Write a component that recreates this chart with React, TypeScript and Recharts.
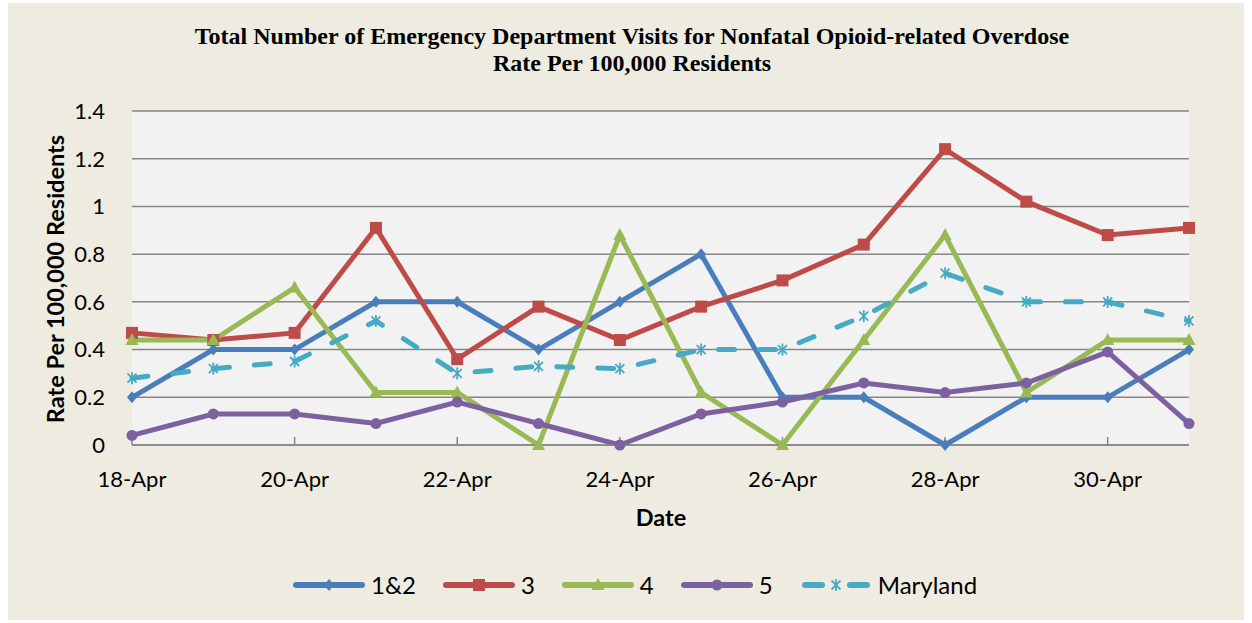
import React from "react";
import { LineChart, Line, XAxis, YAxis, CartesianGrid } from "recharts";

const dates = [
  "18-Apr", "19-Apr", "20-Apr", "21-Apr", "22-Apr", "23-Apr", "24-Apr",
  "25-Apr", "26-Apr", "27-Apr", "28-Apr", "29-Apr", "30-Apr", "1-May",
];
const region12 = [0.2, 0.4, 0.4, 0.6, 0.6, 0.4, 0.6, 0.8, 0.2, 0.2, 0, 0.2, 0.2, 0.4];
const region3 = [0.47, 0.44, 0.47, 0.91, 0.36, 0.58, 0.44, 0.58, 0.69, 0.84, 1.24, 1.02, 0.88, 0.91];
const region4 = [0.44, 0.44, 0.66, 0.22, 0.22, 0, 0.88, 0.22, 0, 0.44, 0.88, 0.22, 0.44, 0.44];
const region5 = [0.04, 0.13, 0.13, 0.09, 0.18, 0.09, 0, 0.13, 0.18, 0.26, 0.22, 0.26, 0.39, 0.09];
const maryland = [0.28, 0.32, 0.35, 0.52, 0.3, 0.33, 0.32, 0.4, 0.4, 0.54, 0.72, 0.6, 0.6, 0.52];
const yTicks = [0, 0.2, 0.4, 0.6, 0.8, 1, 1.2, 1.4];

const data = dates.map((date, i) => ({
  date,
  r12: region12[i],
  r3: region3[i],
  r4: region4[i],
  r5: region5[i],
  md: maryland[i],
}));

const BLUE = "#4A7EBB";
const RED = "#BE4B48";
const GREEN = "#98B954";
const PURPLE = "#7D60A0";
const CYAN = "#46AAC5";
const GRID = "#868686";
const SANS = "Lato, 'Liberation Sans', sans-serif";

type Shape = "diamond" | "square" | "triangle" | "circle" | "star";

function Marker({ shape, cx, cy, color }: { shape: Shape; cx: number; cy: number; color: string }) {
  if (cx == null || cy == null) return null;
  switch (shape) {
    case "diamond":
      return <polygon points={`${cx},${cy - 6} ${cx + 5},${cy} ${cx},${cy + 6} ${cx - 5},${cy}`} fill={color} />;
    case "square":
      return <rect x={cx - 6} y={cy - 6} width={12} height={12} fill={color} />;
    case "triangle":
      return <polygon points={`${cx},${cy - 7} ${cx + 6.5},${cy + 5} ${cx - 6.5},${cy + 5}`} fill={color} />;
    case "circle":
      return <circle cx={cx} cy={cy} r={5.5} fill={color} />;
    case "star":
      return (
        <g stroke={color} strokeWidth={1.8}>
          <line x1={cx - 4.5} y1={cy - 4.5} x2={cx + 4.5} y2={cy + 4.5} />
          <line x1={cx - 4.5} y1={cy + 4.5} x2={cx + 4.5} y2={cy - 4.5} />
          <line x1={cx} y1={cy - 6} x2={cx} y2={cy + 6} />
        </g>
      );
  }
  return null;
}

const dotFor = (shape: Shape, color: string) => (props: any) =>
  <Marker key={`${shape}-${props.index}`} shape={shape} cx={props.cx} cy={props.cy} color={color} />;

const legendItems: { name: string; color: string; shape: Shape; dashed?: boolean }[] = [
  { name: "1&2", color: BLUE, shape: "diamond" },
  { name: "3", color: RED, shape: "square" },
  { name: "4", color: GREEN, shape: "triangle" },
  { name: "5", color: PURPLE, shape: "circle" },
  { name: "Maryland", color: CYAN, shape: "star", dashed: true },
];

function LegendBox() {
  return (
    <div
      style={{
        position: "absolute",
        top: 571,
        left: 293,
        display: "flex",
        alignItems: "center",
        fontFamily: SANS,
        fontSize: 24,
        color: "#000",
        height: 28,
      }}
    >
      {legendItems.map((it) => (
        <div key={it.name} style={{ display: "flex", alignItems: "center", marginRight: 27 }}>
          <svg width={72} height={16}>
            {it.dashed ? (
              <g stroke={it.color} strokeWidth={6} strokeLinecap="round">
                <line x1={5} y1={8} x2={22} y2={8} />
                <line x1={50} y1={8} x2={67} y2={8} />
              </g>
            ) : (
              <line x1={3} y1={8} x2={69} y2={8} stroke={it.color} strokeWidth={6} strokeLinecap="round" />
            )}
            <Marker shape={it.shape} cx={36} cy={8} color={it.color} />
          </svg>
          <span style={{ marginLeft: 6, lineHeight: "28px" }}>{it.name}</span>
        </div>
      ))}
    </div>
  );
}

export default function App() {
  return (
    <div style={{ position: "absolute", left: 0, top: 0, width: 1252, height: 623, background: "#fff" }}>
      <div style={{ position: "absolute", left: 8, top: 3, width: 1236, height: 617, background: "#EEECE1" }} />
      <div
        style={{
          position: "absolute",
          left: 0,
          top: 23,
          width: 1264,
          textAlign: "center",
          fontFamily: "'Liberation Serif', 'Times New Roman', serif",
          fontWeight: "bold",
          fontSize: 24,
          lineHeight: "27px",
          color: "#000",
        }}
      >
        Total Number of Emergency Department Visits for Nonfatal Opioid-related Overdose
        <br />
        Rate Per 100,000 Residents
      </div>
      <div
        style={{
          position: "absolute",
          left: 55,
          top: 279,
          transform: "translate(-50%, -50%) rotate(-90deg)",
          whiteSpace: "nowrap",
          fontFamily: SANS,
          fontWeight: "bold",
          fontSize: 23.5,
          color: "#000",
        }}
      >
        Rate Per 100,000 Residents
      </div>
      <div
        style={{
          position: "absolute",
          left: 661,
          top: 517,
          transform: "translate(-50%, -50%)",
          fontFamily: SANS,
          fontWeight: "bold",
          fontSize: 23.5,
          color: "#000",
        }}
      >
        Date
      </div>
      <div style={{ position: "absolute", left: 0, top: 0 }}>
        <LineChart
          width={1252}
          height={623}
          data={data}
          margin={{ top: 111, right: 63, bottom: 148, left: 72 }}
        >
          <CartesianGrid vertical={false} stroke={GRID} strokeWidth={1.5} fill="#F2F2F2" />
          <XAxis
            dataKey="date"
            interval={1}
            height={30}
            axisLine={{ stroke: GRID, strokeWidth: 1.5 }}
            tickLine={{ stroke: GRID, strokeWidth: 1.5 }}
            tickSize={-8}
            tickMargin={34}
            tick={{ fill: "#000", fontSize: 22, fontFamily: SANS }}
          />
          <YAxis
            domain={[0, 1.4]}
            ticks={yTicks}
            width={60}
            axisLine={false}
            tickLine={false}
            tickSize={0}
            tickMargin={27}
            tick={{ fill: "#000", fontSize: 22, fontFamily: SANS }}
          />
          <Line dataKey="r12" stroke={BLUE} strokeWidth={5} dot={dotFor("diamond", BLUE)} isAnimationActive={false} />
          <Line dataKey="r3" stroke={RED} strokeWidth={5} dot={dotFor("square", RED)} isAnimationActive={false} />
          <Line dataKey="r4" stroke={GREEN} strokeWidth={5} dot={dotFor("triangle", GREEN)} isAnimationActive={false} />
          <Line dataKey="r5" stroke={PURPLE} strokeWidth={5} dot={dotFor("circle", PURPLE)} isAnimationActive={false} />
          <Line
            dataKey="md"
            stroke={CYAN}
            strokeWidth={5}
            strokeDasharray="16 25"
            strokeLinecap="round"
            dot={dotFor("star", CYAN)}
            isAnimationActive={false}
          />
        </LineChart>
      </div>
      <LegendBox />
    </div>
  );
}
